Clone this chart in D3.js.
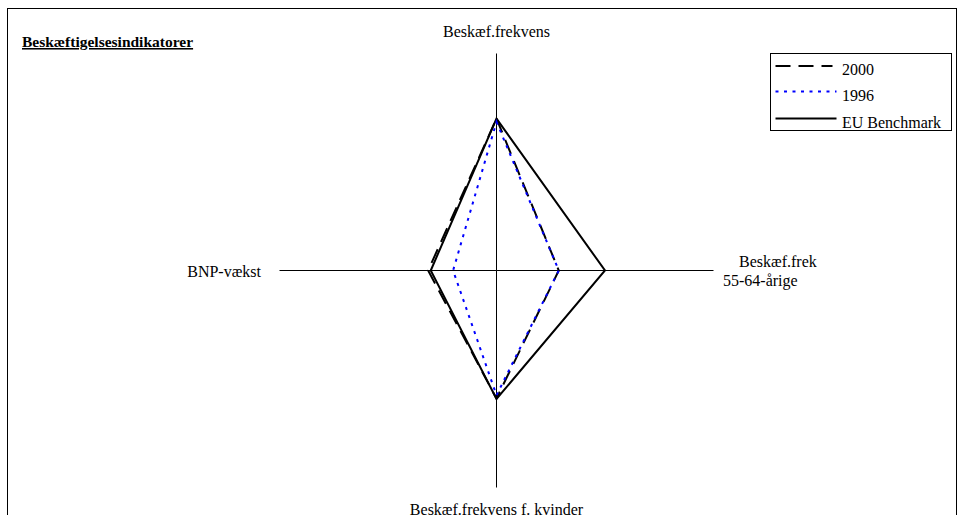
<!DOCTYPE html>
<html>
<head>
<meta charset="utf-8">
<script src="https://cdn.jsdelivr.net/npm/d3@7"></script>
<style>
  body { margin: 0; background: #fff; }
  svg text { font-family: "Times New Roman", "Liberation Serif", "DejaVu Serif", serif; fill: #000; }
</style>
</head>
<body>
<svg id="svg"></svg>
<script>
// axes clockwise from the top
const axes = ["Beskæf.frekvens", "Beskæf.frek\n55-64-årige", "Beskæf.frekvens f. kvinder", "BNP-vækst"];

const values2000 = [70, 28.7, 59, 31.5];
const values1996 = [68.5, 28.7, 57.5, 20];
const valuesEU = [70, 50, 59.2, 30.3];

const seriesNames = ["2000", "1996", "EU Benchmark"];

const layout = {"width": 962, "height": 515, "cx": 496.5, "cy": 270.5, "radius": 217};

const svg = d3.select("#svg")
  .attr("width", layout.width)
  .attr("height", layout.height);

// frame
svg.append("rect")
  .attr("x", 7.5).attr("y", 8.5)
  .attr("width", 949).attr("height", 540)
  .attr("fill", "none").attr("stroke", "#000").attr("stroke-width", 1);

// title
svg.append("text")
  .attr("x", 22).attr("y", 47)
  .attr("font-size", "15.5px").attr("font-weight", "bold")
  .attr("text-decoration", "underline")
  .text("Beskæftigelsesindikatorer");

const r = d3.scaleLinear().domain([0, 100]).range([0, layout.radius]);
const angle = d3.scaleLinear().domain([0, axes.length]).range([0, 2 * Math.PI]);

const g = svg.append("g").attr("transform", `translate(${layout.cx}, ${layout.cy})`);

// axis lines
g.selectAll(".axis")
  .data(axes)
  .join("line")
  .attr("class", "axis")
  .attr("x1", 0).attr("y1", 0)
  .attr("x2", (d, i) => Math.sin(angle(i)) * r(100))
  .attr("y2", (d, i) => -Math.cos(angle(i)) * r(100))
  .attr("stroke", "#000").attr("stroke-width", 1);

// axis labels
const labelPos = [
  {x: 0, y: -233.5, anchor: "middle"},
  {x: 242.5, y: -3.5, anchor: "start"},
  {x: 0, y: 244.5, anchor: "middle"},
  {x: -235.5, y: 6.5, anchor: "end"}
];
const labels = g.selectAll(".label")
  .data(axes)
  .join("text")
  .attr("class", "label")
  .attr("font-size", "16px")
  .attr("text-anchor", (d, i) => labelPos[i].anchor)
  .attr("transform", (d, i) => `translate(${labelPos[i].x}, ${labelPos[i].y})`);
labels.each(function(d) {
  const lines = d.split("\n");
  d3.select(this).selectAll("tspan")
    .data(lines)
    .join("tspan")
    .attr("x", (t, j) => j === 0 ? 0 : -16)
    .attr("dy", (t, j) => j === 0 ? 0 : 19)
    .text(t => t);
});

const radar = d3.lineRadial()
  .angle((d, i) => angle(i))
  .radius(d => r(d))
  .curve(d3.curveLinearClosed);

const styles = [
  {stroke: "#000", dash: "15,8"},
  {stroke: "#0000ff", dash: "3,5.5"},
  {stroke: "#000", dash: null}
];
const series = [values2000, values1996, valuesEU];

// draw EU first so dashed lines appear on top
[2, 0, 1].forEach(k => {
  g.append("path")
    .datum(series[k])
    .attr("d", radar)
    .attr("fill", "none")
    .attr("stroke", styles[k].stroke)
    .attr("stroke-width", 2)
    .attr("stroke-dasharray", styles[k].dash);
});

// legend
const legend = svg.append("g").attr("transform", "translate(770.5, 53.5)");
legend.append("rect")
  .attr("width", 181).attr("height", 77)
  .attr("fill", "#fff").attr("stroke", "#000").attr("stroke-width", 1);

const legendY = [12.5, 38, 65];
legend.selectAll(".key")
  .data(seriesNames)
  .join("line")
  .attr("class", "key")
  .attr("x1", 5).attr("x2", (d, i) => i === 0 ? 62 : 66)
  .attr("y1", (d, i) => legendY[i]).attr("y2", (d, i) => legendY[i])
  .attr("stroke", (d, i) => styles[i].stroke)
  .attr("stroke-width", 2)
  .attr("stroke-dasharray", (d, i) => styles[i].dash);

legend.selectAll(".keytext")
  .data(seriesNames)
  .join("text")
  .attr("class", "keytext")
  .attr("x", 71.5)
  .attr("y", (d, i) => legendY[i] + 9)
  .attr("font-size", "16px")
  .text(d => d);
</script>
</body>
</html>
